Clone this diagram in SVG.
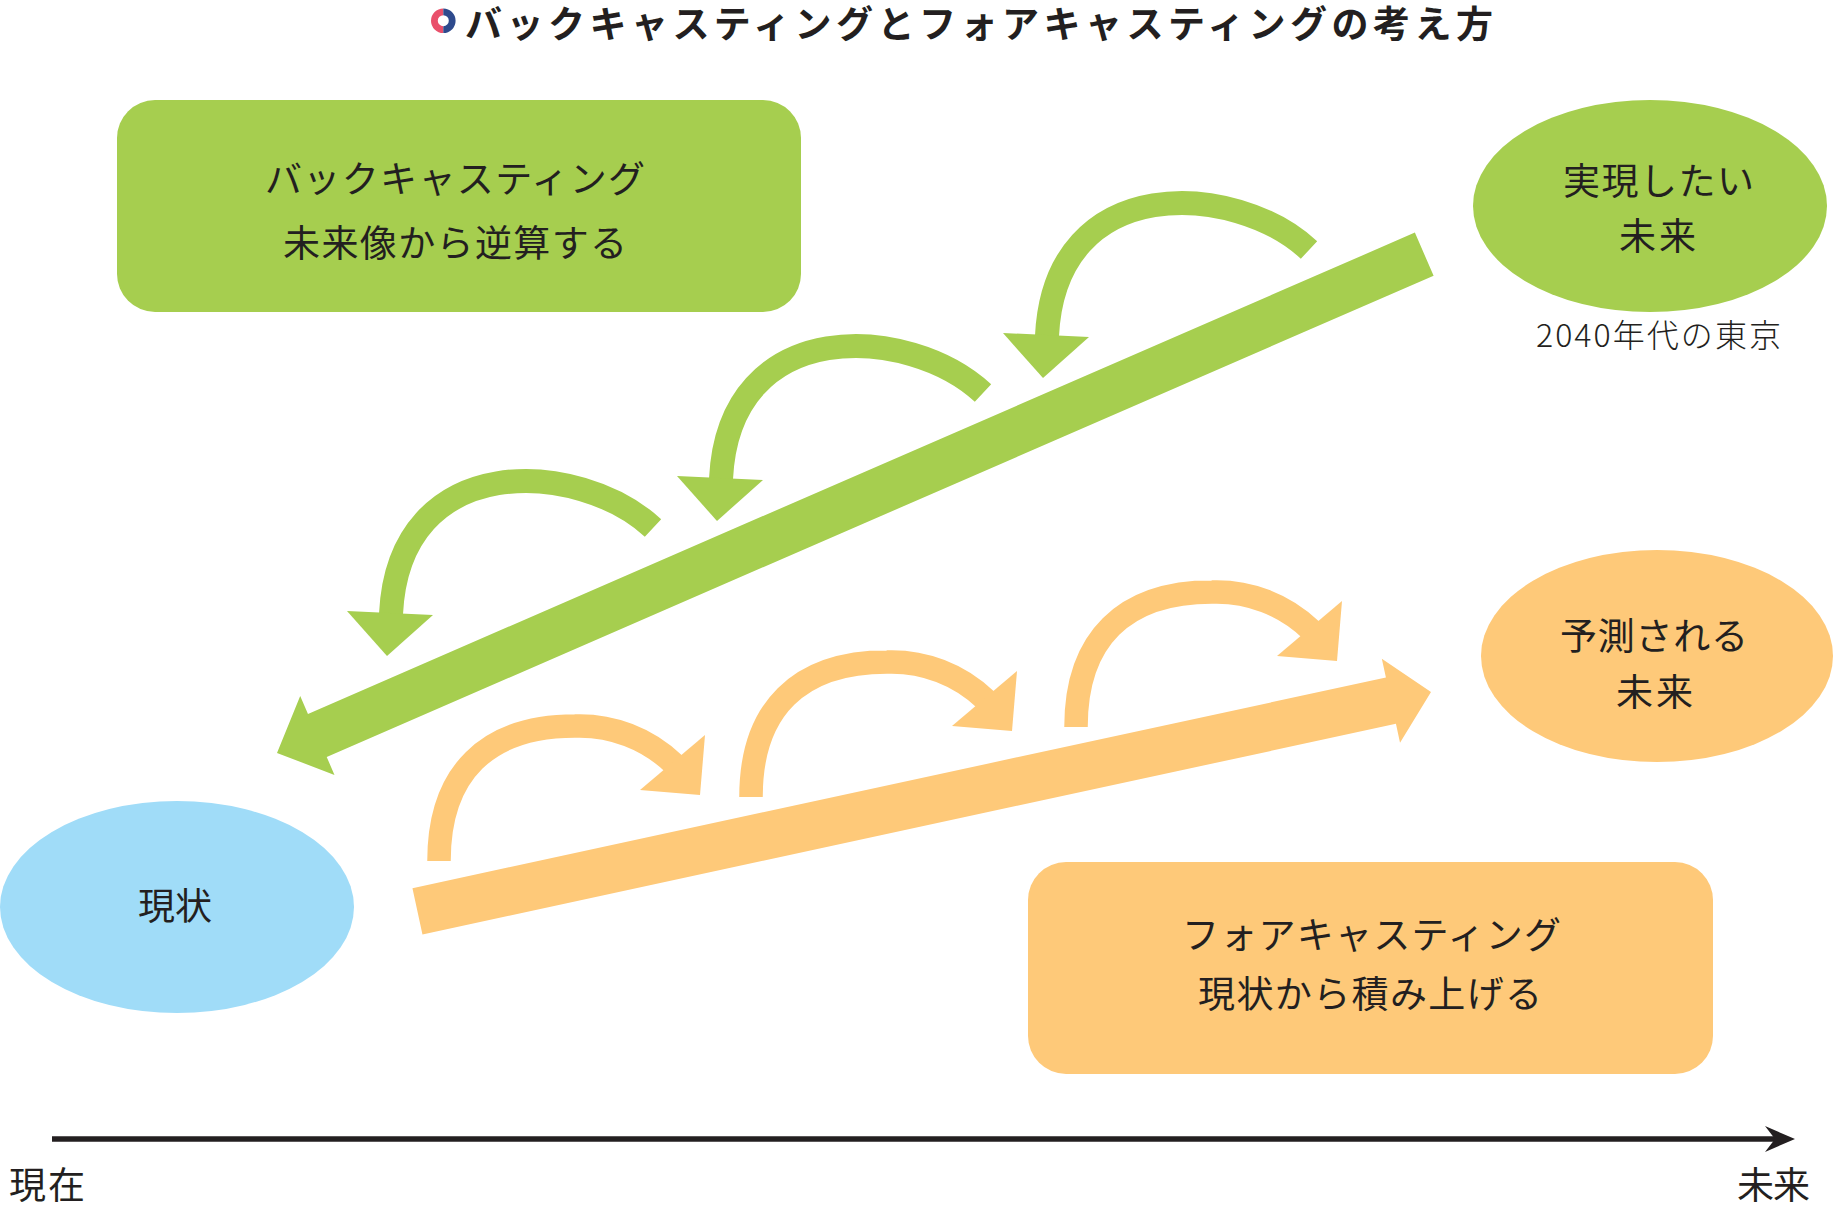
<svg xmlns="http://www.w3.org/2000/svg" width="1835" height="1210" viewBox="0 0 1835 1210">
<style>
text{font-family:"Noto Sans CJK JP","Noto Sans CJK SC",sans-serif;fill:#231f20;font-size:37px;}
.title{font-size:37px;font-weight:700;}
.sub{font-size:32px;font-weight:300;}
.g{fill:#a6ce4f;}
.o{fill:#fec979;}
.b{fill:#a0dcf8;}
.garc{fill:none;stroke:#a6ce4f;stroke-width:24;}
.oarc{fill:none;stroke:#fec979;stroke-width:23.5;}
</style>
<rect width="1835" height="1210" fill="#ffffff"/>
<g id="title">
<path d="M443.3 11.8 A8.9 8.9 0 0 0 443.3 29.6" fill="none" stroke="#e9506b" stroke-width="6.8"/>
<path d="M443.3 11.8 A8.9 8.9 0 0 1 443.3 29.6" fill="none" stroke="#2e4a8d" stroke-width="6.8"/>
<text class="title" x="465" y="38" textLength="1028" lengthAdjust="spacing">バックキャスティングとフォアキャスティングの考え方</text>
</g>
<g id="connectors">
<polygon class="g" transform="translate(277,753) rotate(-23.5)" points="0,0 44,-43 44,-23.5 1251,-23.5 1251,23.5 44,23.5 44,43"/>
<polygon class="o" transform="translate(1431,692) rotate(167.79)" points="0,0 41,-43 41,-23.7 1037,-23.7 1037,23.7 41,23.7 41,43"/>
<g id="green-curve-1">
<path class="garc" d="M1309 250 C1236 182 1055 170 1047 336"/>
<polygon class="g" points="1003,333 1089,337 1043,378"/>
</g>
<g id="green-curve-2" transform="translate(-326,143)">
<path class="garc" d="M1309 250 C1236 182 1055 170 1047 336"/>
<polygon class="g" points="1003,333 1089,337 1043,378"/>
</g>
<g id="green-curve-3" transform="translate(-656,278)">
<path class="garc" d="M1309 250 C1236 182 1055 170 1047 336"/>
<polygon class="g" points="1003,333 1089,337 1043,378"/>
</g>
<g id="orange-curve-1">
<path class="oarc" d="M439 861 C439 773 487 726 575 726 A136 136 0 0 1 674 764"/>
<polygon class="o" points="705,735 640,790 700,795"/>
</g>
<g id="orange-curve-2" transform="translate(312,-64)">
<path class="oarc" d="M439 861 C439 773 487 726 575 726 A136 136 0 0 1 674 764"/>
<polygon class="o" points="705,735 640,790 700,795"/>
</g>
<g id="orange-curve-3" transform="translate(637,-134)">
<path class="oarc" d="M439 861 C439 773 487 726 575 726 A136 136 0 0 1 674 764"/>
<polygon class="o" points="705,735 640,790 700,795"/>
</g>
<g id="time-axis">
<line x1="52" y1="1139" x2="1778" y2="1139" stroke="#231f20" stroke-width="5.5"/>
<polygon fill="#231f20" points="1795,1139 1765,1126 1775,1139 1765,1152"/>
</g>
</g>
<g id="box-backcasting">
<rect class="g" x="117" y="100" width="684" height="212" rx="38" ry="38"/>
<text x="265" y="193" textLength="380" lengthAdjust="spacing">バックキャスティング</text>
<text x="283" y="257" textLength="344" lengthAdjust="spacing">未来像から逆算する</text>
</g>
<g id="node-desired-future">
<ellipse class="g" cx="1650" cy="206" rx="177" ry="106"/>
<text x="1563" y="195" textLength="191" lengthAdjust="spacing">実現したい</text>
<text x="1619" y="250" textLength="77" lengthAdjust="spacing">未来</text>
<text class="sub" x="1536" y="347" textLength="245" lengthAdjust="spacing">2040年代の東京</text>
</g>
<g id="node-predicted-future">
<ellipse class="o" cx="1657" cy="656" rx="176" ry="106"/>
<text x="1560" y="650" textLength="188" lengthAdjust="spacing">予測される</text>
<text x="1616" y="706" textLength="77" lengthAdjust="spacing">未来</text>
</g>
<g id="node-current">
<ellipse class="b" cx="177" cy="907" rx="177" ry="106"/>
<text x="138" y="920" textLength="74" lengthAdjust="spacing">現状</text>
</g>
<g id="box-forecasting">
<rect class="o" x="1028" y="862" width="685" height="212" rx="38" ry="38"/>
<text x="1182" y="949" textLength="379" lengthAdjust="spacing">フォアキャスティング</text>
<text x="1198" y="1008" textLength="344" lengthAdjust="spacing">現状から積み上げる</text>
</g>
<g id="axis-labels">
<text x="9" y="1199" textLength="76" lengthAdjust="spacing">現在</text>
<text x="1737" y="1199" textLength="73" lengthAdjust="spacing">未来</text>
</g>
</svg>
